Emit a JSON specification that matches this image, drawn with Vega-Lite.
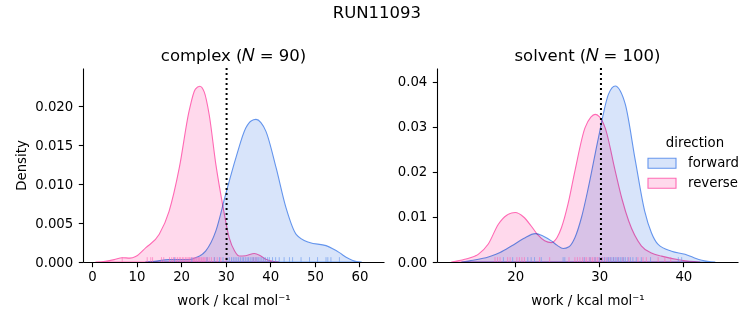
{
  "$schema": "https://vega.github.io/schema/vega-lite/v6.json",
  "padding": {"left": 14, "top": 5, "right": 5, "bottom": 5},
  "background": "white",
  "title": {"text": "RUN11093", "fontSize": 16.5, "fontWeight": "normal", "font": "DejaVu Sans", "anchor": "middle", "color": "black", "offset": 26},
  "config": {
    "font": "DejaVu Sans",
    "view": {"stroke": null},
    "axis": {"grid": false, "zindex": 1, "domainColor": "black", "tickColor": "black", "labelColor": "black", "titleColor": "black", "labelFont": "DejaVu Sans", "titleFont": "DejaVu Sans", "labelFontSize": 13.3, "titleFontSize": 13.3, "titleFontWeight": "normal", "tickSize": 4.7, "domainWidth": 1.1, "tickWidth": 1.1},
    "axisX": {"labelPadding": 3, "titlePadding": 10},
    "axisY": {"labelPadding": 5.5},
    "legend": {"labelFont": "DejaVu Sans", "titleFont": "DejaVu Sans", "labelFontSize": 13.3, "titleFontSize": 13.3},
    "title": {"font": "DejaVu Sans", "fontWeight": "normal", "color": "black"}
  },
  "datasets": {
    "kde": [
      {"panel": "complex", "direction": "reverse", "work": 0.8, "density": 0},
      {"panel": "complex", "direction": "reverse", "work": 3, "density": 0.0001},
      {"panel": "complex", "direction": "reverse", "work": 5, "density": 0.0003},
      {"panel": "complex", "direction": "reverse", "work": 6.8, "density": 0.00055},
      {"panel": "complex", "direction": "reverse", "work": 8.5, "density": 0.0005},
      {"panel": "complex", "direction": "reverse", "work": 9.8, "density": 0.0007},
      {"panel": "complex", "direction": "reverse", "work": 12.1, "density": 0.00184},
      {"panel": "complex", "direction": "reverse", "work": 15.1, "density": 0.00355},
      {"panel": "complex", "direction": "reverse", "work": 17.3, "density": 0.0065},
      {"panel": "complex", "direction": "reverse", "work": 19.6, "density": 0.0121},
      {"panel": "complex", "direction": "reverse", "work": 21.8, "density": 0.0194},
      {"panel": "complex", "direction": "reverse", "work": 23.2, "density": 0.0222},
      {"panel": "complex", "direction": "reverse", "work": 24.2, "density": 0.02256},
      {"panel": "complex", "direction": "reverse", "work": 25.2, "density": 0.0218},
      {"panel": "complex", "direction": "reverse", "work": 26.3, "density": 0.0189},
      {"panel": "complex", "direction": "reverse", "work": 27.8, "density": 0.0125},
      {"panel": "complex", "direction": "reverse", "work": 29.3, "density": 0.0074},
      {"panel": "complex", "direction": "reverse", "work": 30.8, "density": 0.0031},
      {"panel": "complex", "direction": "reverse", "work": 32.0, "density": 0.0014},
      {"panel": "complex", "direction": "reverse", "work": 33.0, "density": 0.00077},
      {"panel": "complex", "direction": "reverse", "work": 34.5, "density": 0.0008},
      {"panel": "complex", "direction": "reverse", "work": 36.4, "density": 0.0011},
      {"panel": "complex", "direction": "reverse", "work": 37.8, "density": 0.0008},
      {"panel": "complex", "direction": "reverse", "work": 39.0, "density": 0.00034},
      {"panel": "complex", "direction": "reverse", "work": 41.0, "density": 0.00005},
      {"panel": "complex", "direction": "reverse", "work": 42.0, "density": 0},
      {"panel": "complex", "direction": "forward", "work": 12.0, "density": 0},
      {"panel": "complex", "direction": "forward", "work": 14.0, "density": 0.0001},
      {"panel": "complex", "direction": "forward", "work": 17.3, "density": 0.0003},
      {"panel": "complex", "direction": "forward", "work": 21.8, "density": 0.0003},
      {"panel": "complex", "direction": "forward", "work": 23.5, "density": 0.0006},
      {"panel": "complex", "direction": "forward", "work": 25.5, "density": 0.0014},
      {"panel": "complex", "direction": "forward", "work": 27.8, "density": 0.004},
      {"panel": "complex", "direction": "forward", "work": 30.0, "density": 0.0087},
      {"panel": "complex", "direction": "forward", "work": 32.3, "density": 0.0134},
      {"panel": "complex", "direction": "forward", "work": 34.5, "density": 0.0172},
      {"panel": "complex", "direction": "forward", "work": 35.7, "density": 0.0181},
      {"panel": "complex", "direction": "forward", "work": 36.8, "density": 0.0183},
      {"panel": "complex", "direction": "forward", "work": 37.9, "density": 0.0179},
      {"panel": "complex", "direction": "forward", "work": 39.0, "density": 0.0168},
      {"panel": "complex", "direction": "forward", "work": 41.3, "density": 0.0121},
      {"panel": "complex", "direction": "forward", "work": 43.5, "density": 0.007},
      {"panel": "complex", "direction": "forward", "work": 45.8, "density": 0.00355},
      {"panel": "complex", "direction": "forward", "work": 48.8, "density": 0.0025},
      {"panel": "complex", "direction": "forward", "work": 52.5, "density": 0.0021},
      {"panel": "complex", "direction": "forward", "work": 54.0, "density": 0.0017},
      {"panel": "complex", "direction": "forward", "work": 55.5, "density": 0.0012},
      {"panel": "complex", "direction": "forward", "work": 57.0, "density": 0.0006},
      {"panel": "complex", "direction": "forward", "work": 58.5, "density": 0.0002},
      {"panel": "complex", "direction": "forward", "work": 60.5, "density": 0},
      {"panel": "solvent", "direction": "reverse", "work": 12.4, "density": 0},
      {"panel": "solvent", "direction": "reverse", "work": 14.0, "density": 0.0006},
      {"panel": "solvent", "direction": "reverse", "work": 15.6, "density": 0.0017},
      {"panel": "solvent", "direction": "reverse", "work": 16.8, "density": 0.004},
      {"panel": "solvent", "direction": "reverse", "work": 18.0, "density": 0.0084},
      {"panel": "solvent", "direction": "reverse", "work": 19.0, "density": 0.0104},
      {"panel": "solvent", "direction": "reverse", "work": 20.0, "density": 0.011},
      {"panel": "solvent", "direction": "reverse", "work": 21.0, "density": 0.01},
      {"panel": "solvent", "direction": "reverse", "work": 21.9, "density": 0.008},
      {"panel": "solvent", "direction": "reverse", "work": 22.7, "density": 0.006},
      {"panel": "solvent", "direction": "reverse", "work": 23.5, "density": 0.0047},
      {"panel": "solvent", "direction": "reverse", "work": 24.3, "density": 0.0043},
      {"panel": "solvent", "direction": "reverse", "work": 25.0, "density": 0.0055},
      {"panel": "solvent", "direction": "reverse", "work": 25.5, "density": 0.0076},
      {"panel": "solvent", "direction": "reverse", "work": 26.3, "density": 0.013},
      {"panel": "solvent", "direction": "reverse", "work": 27.1, "density": 0.0202},
      {"panel": "solvent", "direction": "reverse", "work": 28.3, "density": 0.0298},
      {"panel": "solvent", "direction": "reverse", "work": 29.0, "density": 0.0322},
      {"panel": "solvent", "direction": "reverse", "work": 29.5, "density": 0.0328},
      {"panel": "solvent", "direction": "reverse", "work": 30.0, "density": 0.0323},
      {"panel": "solvent", "direction": "reverse", "work": 30.7, "density": 0.0298},
      {"panel": "solvent", "direction": "reverse", "work": 31.9, "density": 0.0202},
      {"panel": "solvent", "direction": "reverse", "work": 32.7, "density": 0.014},
      {"panel": "solvent", "direction": "reverse", "work": 33.5, "density": 0.0091},
      {"panel": "solvent", "direction": "reverse", "work": 35.0, "density": 0.0036},
      {"panel": "solvent", "direction": "reverse", "work": 36.2, "density": 0.002},
      {"panel": "solvent", "direction": "reverse", "work": 37.4, "density": 0.0013},
      {"panel": "solvent", "direction": "reverse", "work": 39.8, "density": 0.0004},
      {"panel": "solvent", "direction": "reverse", "work": 42.0, "density": 0},
      {"panel": "solvent", "direction": "forward", "work": 13.6, "density": 0},
      {"panel": "solvent", "direction": "forward", "work": 15.0, "density": 0.0004},
      {"panel": "solvent", "direction": "forward", "work": 16.8, "density": 0.0011},
      {"panel": "solvent", "direction": "forward", "work": 18.2, "density": 0.0021},
      {"panel": "solvent", "direction": "forward", "work": 19.6, "density": 0.0036},
      {"panel": "solvent", "direction": "forward", "work": 21.0, "density": 0.0052},
      {"panel": "solvent", "direction": "forward", "work": 22.4, "density": 0.0063},
      {"panel": "solvent", "direction": "forward", "work": 23.3, "density": 0.0058},
      {"panel": "solvent", "direction": "forward", "work": 24.3, "density": 0.0047},
      {"panel": "solvent", "direction": "forward", "work": 25.0, "density": 0.0037},
      {"panel": "solvent", "direction": "forward", "work": 25.7, "density": 0.003},
      {"panel": "solvent", "direction": "forward", "work": 26.4, "density": 0.0034},
      {"panel": "solvent", "direction": "forward", "work": 27.1, "density": 0.0054},
      {"panel": "solvent", "direction": "forward", "work": 27.9, "density": 0.01},
      {"panel": "solvent", "direction": "forward", "work": 28.7, "density": 0.0165},
      {"panel": "solvent", "direction": "forward", "work": 29.9, "density": 0.0276},
      {"panel": "solvent", "direction": "forward", "work": 31.1, "density": 0.0373},
      {"panel": "solvent", "direction": "forward", "work": 31.9, "density": 0.0391},
      {"panel": "solvent", "direction": "forward", "work": 32.5, "density": 0.038},
      {"panel": "solvent", "direction": "forward", "work": 33.1, "density": 0.035},
      {"panel": "solvent", "direction": "forward", "work": 34.3, "density": 0.0224},
      {"panel": "solvent", "direction": "forward", "work": 35.4, "density": 0.0113},
      {"panel": "solvent", "direction": "forward", "work": 36.2, "density": 0.0065},
      {"panel": "solvent", "direction": "forward", "work": 37.0, "density": 0.0039},
      {"panel": "solvent", "direction": "forward", "work": 38.6, "density": 0.0024},
      {"panel": "solvent", "direction": "forward", "work": 40.2, "density": 0.0017},
      {"panel": "solvent", "direction": "forward", "work": 41.2, "density": 0.001},
      {"panel": "solvent", "direction": "forward", "work": 42.2, "density": 0.0004},
      {"panel": "solvent", "direction": "forward", "work": 43.8, "density": 0}
    ],
    "rug": [
      {"panel": "complex", "direction": "reverse", "work": 6.8},
      {"panel": "complex", "direction": "reverse", "work": 12.4},
      {"panel": "complex", "direction": "reverse", "work": 13.2},
      {"panel": "complex", "direction": "reverse", "work": 13.6},
      {"panel": "complex", "direction": "reverse", "work": 15.6},
      {"panel": "complex", "direction": "reverse", "work": 16.1},
      {"panel": "complex", "direction": "reverse", "work": 17.4},
      {"panel": "complex", "direction": "reverse", "work": 17.9},
      {"panel": "complex", "direction": "reverse", "work": 18.3},
      {"panel": "complex", "direction": "reverse", "work": 18.8},
      {"panel": "complex", "direction": "reverse", "work": 19.2},
      {"panel": "complex", "direction": "reverse", "work": 19.6},
      {"panel": "complex", "direction": "reverse", "work": 19.9},
      {"panel": "complex", "direction": "reverse", "work": 20.3},
      {"panel": "complex", "direction": "reverse", "work": 20.6},
      {"panel": "complex", "direction": "reverse", "work": 21.0},
      {"panel": "complex", "direction": "reverse", "work": 21.3},
      {"panel": "complex", "direction": "reverse", "work": 21.6},
      {"panel": "complex", "direction": "reverse", "work": 21.9},
      {"panel": "complex", "direction": "reverse", "work": 22.2},
      {"panel": "complex", "direction": "reverse", "work": 22.5},
      {"panel": "complex", "direction": "reverse", "work": 22.8},
      {"panel": "complex", "direction": "reverse", "work": 23.0},
      {"panel": "complex", "direction": "reverse", "work": 23.3},
      {"panel": "complex", "direction": "reverse", "work": 23.5},
      {"panel": "complex", "direction": "reverse", "work": 23.8},
      {"panel": "complex", "direction": "reverse", "work": 24.0},
      {"panel": "complex", "direction": "reverse", "work": 24.2},
      {"panel": "complex", "direction": "reverse", "work": 24.5},
      {"panel": "complex", "direction": "reverse", "work": 24.7},
      {"panel": "complex", "direction": "reverse", "work": 25.0},
      {"panel": "complex", "direction": "reverse", "work": 25.3},
      {"panel": "complex", "direction": "reverse", "work": 25.6},
      {"panel": "complex", "direction": "reverse", "work": 25.9},
      {"panel": "complex", "direction": "reverse", "work": 26.3},
      {"panel": "complex", "direction": "reverse", "work": 26.8},
      {"panel": "complex", "direction": "reverse", "work": 27.4},
      {"panel": "complex", "direction": "reverse", "work": 28.1},
      {"panel": "complex", "direction": "reverse", "work": 28.9},
      {"panel": "complex", "direction": "reverse", "work": 30.1},
      {"panel": "complex", "direction": "reverse", "work": 36.2},
      {"panel": "complex", "direction": "reverse", "work": 36.8},
      {"panel": "complex", "direction": "forward", "work": 18.5},
      {"panel": "complex", "direction": "forward", "work": 22.4},
      {"panel": "complex", "direction": "forward", "work": 25.8},
      {"panel": "complex", "direction": "forward", "work": 27.5},
      {"panel": "complex", "direction": "forward", "work": 28.6},
      {"panel": "complex", "direction": "forward", "work": 29.4},
      {"panel": "complex", "direction": "forward", "work": 30.3},
      {"panel": "complex", "direction": "forward", "work": 30.8},
      {"panel": "complex", "direction": "forward", "work": 31.3},
      {"panel": "complex", "direction": "forward", "work": 31.7},
      {"panel": "complex", "direction": "forward", "work": 32.1},
      {"panel": "complex", "direction": "forward", "work": 32.5},
      {"panel": "complex", "direction": "forward", "work": 32.9},
      {"panel": "complex", "direction": "forward", "work": 33.3},
      {"panel": "complex", "direction": "forward", "work": 33.7},
      {"panel": "complex", "direction": "forward", "work": 34.0},
      {"panel": "complex", "direction": "forward", "work": 34.4},
      {"panel": "complex", "direction": "forward", "work": 34.8},
      {"panel": "complex", "direction": "forward", "work": 35.1},
      {"panel": "complex", "direction": "forward", "work": 35.5},
      {"panel": "complex", "direction": "forward", "work": 35.9},
      {"panel": "complex", "direction": "forward", "work": 36.2},
      {"panel": "complex", "direction": "forward", "work": 36.6},
      {"panel": "complex", "direction": "forward", "work": 37.0},
      {"panel": "complex", "direction": "forward", "work": 37.3},
      {"panel": "complex", "direction": "forward", "work": 37.7},
      {"panel": "complex", "direction": "forward", "work": 38.1},
      {"panel": "complex", "direction": "forward", "work": 38.5},
      {"panel": "complex", "direction": "forward", "work": 38.9},
      {"panel": "complex", "direction": "forward", "work": 39.4},
      {"panel": "complex", "direction": "forward", "work": 39.8},
      {"panel": "complex", "direction": "forward", "work": 40.5},
      {"panel": "complex", "direction": "forward", "work": 41.2},
      {"panel": "complex", "direction": "forward", "work": 42.0},
      {"panel": "complex", "direction": "forward", "work": 43.1},
      {"panel": "complex", "direction": "forward", "work": 44.3},
      {"panel": "complex", "direction": "forward", "work": 45.0},
      {"panel": "complex", "direction": "forward", "work": 46.9},
      {"panel": "complex", "direction": "forward", "work": 48.8},
      {"panel": "complex", "direction": "forward", "work": 50.6},
      {"panel": "complex", "direction": "forward", "work": 52.5},
      {"panel": "complex", "direction": "forward", "work": 52.9},
      {"panel": "complex", "direction": "forward", "work": 53.6},
      {"panel": "complex", "direction": "forward", "work": 55.5},
      {"panel": "solvent", "direction": "reverse", "work": 17.6},
      {"panel": "solvent", "direction": "reverse", "work": 17.9},
      {"panel": "solvent", "direction": "reverse", "work": 18.2},
      {"panel": "solvent", "direction": "reverse", "work": 19.1},
      {"panel": "solvent", "direction": "reverse", "work": 19.4},
      {"panel": "solvent", "direction": "reverse", "work": 20.2},
      {"panel": "solvent", "direction": "reverse", "work": 20.5},
      {"panel": "solvent", "direction": "reverse", "work": 20.8},
      {"panel": "solvent", "direction": "reverse", "work": 21.1},
      {"panel": "solvent", "direction": "reverse", "work": 22.9},
      {"panel": "solvent", "direction": "reverse", "work": 24.1},
      {"panel": "solvent", "direction": "reverse", "work": 26.4},
      {"panel": "solvent", "direction": "reverse", "work": 27.1},
      {"panel": "solvent", "direction": "reverse", "work": 27.4},
      {"panel": "solvent", "direction": "reverse", "work": 27.7},
      {"panel": "solvent", "direction": "reverse", "work": 28.0},
      {"panel": "solvent", "direction": "reverse", "work": 28.3},
      {"panel": "solvent", "direction": "reverse", "work": 28.5},
      {"panel": "solvent", "direction": "reverse", "work": 28.8},
      {"panel": "solvent", "direction": "reverse", "work": 29.0},
      {"panel": "solvent", "direction": "reverse", "work": 29.2},
      {"panel": "solvent", "direction": "reverse", "work": 29.4},
      {"panel": "solvent", "direction": "reverse", "work": 29.6},
      {"panel": "solvent", "direction": "reverse", "work": 29.8},
      {"panel": "solvent", "direction": "reverse", "work": 30.0},
      {"panel": "solvent", "direction": "reverse", "work": 30.2},
      {"panel": "solvent", "direction": "reverse", "work": 30.4},
      {"panel": "solvent", "direction": "reverse", "work": 30.7},
      {"panel": "solvent", "direction": "reverse", "work": 31.0},
      {"panel": "solvent", "direction": "reverse", "work": 31.3},
      {"panel": "solvent", "direction": "reverse", "work": 31.7},
      {"panel": "solvent", "direction": "reverse", "work": 32.2},
      {"panel": "solvent", "direction": "reverse", "work": 32.8},
      {"panel": "solvent", "direction": "reverse", "work": 33.5},
      {"panel": "solvent", "direction": "reverse", "work": 34.6},
      {"panel": "solvent", "direction": "reverse", "work": 35.2},
      {"panel": "solvent", "direction": "reverse", "work": 35.6},
      {"panel": "solvent", "direction": "reverse", "work": 37.0},
      {"panel": "solvent", "direction": "reverse", "work": 37.8},
      {"panel": "solvent", "direction": "reverse", "work": 38.5},
      {"panel": "solvent", "direction": "forward", "work": 18.6},
      {"panel": "solvent", "direction": "forward", "work": 19.7},
      {"panel": "solvent", "direction": "forward", "work": 21.5},
      {"panel": "solvent", "direction": "forward", "work": 21.9},
      {"panel": "solvent", "direction": "forward", "work": 22.3},
      {"panel": "solvent", "direction": "forward", "work": 23.1},
      {"panel": "solvent", "direction": "forward", "work": 25.7},
      {"panel": "solvent", "direction": "forward", "work": 25.9},
      {"panel": "solvent", "direction": "forward", "work": 28.2},
      {"panel": "solvent", "direction": "forward", "work": 28.9},
      {"panel": "solvent", "direction": "forward", "work": 29.5},
      {"panel": "solvent", "direction": "forward", "work": 30.0},
      {"panel": "solvent", "direction": "forward", "work": 30.3},
      {"panel": "solvent", "direction": "forward", "work": 30.6},
      {"panel": "solvent", "direction": "forward", "work": 30.9},
      {"panel": "solvent", "direction": "forward", "work": 31.1},
      {"panel": "solvent", "direction": "forward", "work": 31.3},
      {"panel": "solvent", "direction": "forward", "work": 31.5},
      {"panel": "solvent", "direction": "forward", "work": 31.7},
      {"panel": "solvent", "direction": "forward", "work": 31.9},
      {"panel": "solvent", "direction": "forward", "work": 32.1},
      {"panel": "solvent", "direction": "forward", "work": 32.3},
      {"panel": "solvent", "direction": "forward", "work": 32.5},
      {"panel": "solvent", "direction": "forward", "work": 32.7},
      {"panel": "solvent", "direction": "forward", "work": 32.9},
      {"panel": "solvent", "direction": "forward", "work": 33.1},
      {"panel": "solvent", "direction": "forward", "work": 33.4},
      {"panel": "solvent", "direction": "forward", "work": 33.7},
      {"panel": "solvent", "direction": "forward", "work": 34.0},
      {"panel": "solvent", "direction": "forward", "work": 34.4},
      {"panel": "solvent", "direction": "forward", "work": 35.0},
      {"panel": "solvent", "direction": "forward", "work": 36.1},
      {"panel": "solvent", "direction": "forward", "work": 39.4},
      {"panel": "solvent", "direction": "forward", "work": 39.8}
    ],
    "mark": [
      {"panel": "complex", "work": 30.2},
      {"panel": "solvent", "work": 30.2}
    ]
  },
  "spacing": 13,
  "resolve": {"legend": {"color": "independent", "stroke": "independent"}},
  "hconcat": [
    {
      "width": 301,
      "height": 194,
      "title": {"text": "complex (𝑁 = 90)", "fontSize": 16.5, "baseline": "bottom", "offset": -13},
      "layer": [
        {
          "data": {"name": "kde"},
          "transform": [{"filter": "datum.panel == 'complex'"}],
          "mark": {"type": "area", "fillOpacity": 1, "strokeOpacity": 1, "strokeWidth": 1.1, "interpolate": "monotone", "blend": "multiply"},
          "encoding": {
            "x": {"field": "work", "type": "quantitative", "scale": {"domain": [-2, 65.5], "nice": false, "zero": false}, "axis": {"values": [0, 10, 20, 30, 40, 50, 60], "title": "work / kcal mol⁻¹"}},
            "y": {"field": "density", "type": "quantitative", "stack": null, "scale": {"domain": [0, 0.0249], "nice": false}, "axis": {"values": [0, 0.005, 0.01, 0.015, 0.02], "format": ".3f", "title": "Density", "titlePadding": 6}},
            "color": {"field": "direction", "type": "nominal", "scale": {"domain": ["forward", "reverse"], "range": ["#D8E4FA", "#FFD9EC"]}, "legend": null},
            "stroke": {"field": "direction", "type": "nominal", "scale": {"domain": ["forward", "reverse"], "range": ["#6495ED", "#FF69B4"]}, "legend": null}
          }
        },
        {
          "data": {"name": "rug"},
          "transform": [{"filter": "datum.panel == 'complex'"}],
          "mark": {"type": "rule", "strokeWidth": 1, "opacity": 0.6},
          "encoding": {
            "x": {"field": "work", "type": "quantitative"},
            "y": {"datum": 0, "type": "quantitative"},
            "y2": {"datum": 0.00062},
            "stroke": {"field": "direction", "type": "nominal", "legend": null}
          }
        },
        {
          "data": {"name": "mark"},
          "transform": [{"filter": "datum.panel == 'complex'"}],
          "mark": {"type": "rule", "color": "black", "strokeWidth": 2, "strokeDash": [2, 3]},
          "encoding": {"x": {"field": "work", "type": "quantitative"}}
        }
      ]
    },
    {
      "width": 301,
      "height": 194,
      "title": {"text": "solvent (𝑁 = 100)", "fontSize": 16.5, "baseline": "bottom", "offset": -13},
      "layer": [
        {
          "data": {"name": "kde"},
          "transform": [{"filter": "datum.panel == 'solvent'"}],
          "mark": {"type": "area", "fillOpacity": 1, "strokeOpacity": 1, "strokeWidth": 1.1, "interpolate": "monotone", "blend": "multiply"},
          "encoding": {
            "x": {"field": "work", "type": "quantitative", "scale": {"domain": [10.7, 46.5], "nice": false, "zero": false}, "axis": {"values": [20, 30, 40], "title": "work / kcal mol⁻¹"}},
            "y": {"field": "density", "type": "quantitative", "stack": null, "scale": {"domain": [0, 0.0431], "nice": false}, "axis": {"values": [0, 0.01, 0.02, 0.03, 0.04], "format": ".2f", "title": null}},
            "color": {
              "field": "direction", "type": "nominal",
              "scale": {"domain": ["forward", "reverse"], "range": ["#D8E4FA", "#FFD9EC"]},
              "legend": {
                "title": "direction", "orient": "none", "legendX": 214, "legendY": 68,
                "titleFontSize": 13.3, "titleFontWeight": "normal", "titleColor": "black", "titleAnchor": "middle", "titlePadding": 3,
                "labelFontSize": 13.3, "labelColor": "black", "labelOffset": 15,
                "symbolType": "M-1.4,-0.5H1.4V0.5H-1.4Z", "symbolSize": 400, "symbolStrokeWidth": 1.1, "padding": 0, "rowPadding": 1
              }
            },
            "stroke": {
              "field": "direction", "type": "nominal",
              "scale": {"domain": ["forward", "reverse"], "range": ["#6495ED", "#FF69B4"]},
              "legend": {
                "title": "direction", "orient": "none", "legendX": 214, "legendY": 68,
                "titleFontSize": 13.3, "titleFontWeight": "normal", "titleColor": "black", "titleAnchor": "middle", "titlePadding": 3,
                "labelFontSize": 13.3, "labelColor": "black", "labelOffset": 15,
                "symbolType": "M-1.4,-0.5H1.4V0.5H-1.4Z", "symbolSize": 400, "symbolStrokeWidth": 1.1, "padding": 0, "rowPadding": 1
              }
            }
          }
        },
        {
          "data": {"name": "rug"},
          "transform": [{"filter": "datum.panel == 'solvent'"}],
          "mark": {"type": "rule", "strokeWidth": 1, "opacity": 0.6},
          "encoding": {
            "x": {"field": "work", "type": "quantitative"},
            "y": {"datum": 0, "type": "quantitative"},
            "y2": {"datum": 0.00108},
            "stroke": {"field": "direction", "type": "nominal", "legend": null}
          }
        },
        {
          "data": {"name": "mark"},
          "transform": [{"filter": "datum.panel == 'solvent'"}],
          "mark": {"type": "rule", "color": "black", "strokeWidth": 2, "strokeDash": [2, 3]},
          "encoding": {"x": {"field": "work", "type": "quantitative"}}
        }
      ]
    }
  ]
}
